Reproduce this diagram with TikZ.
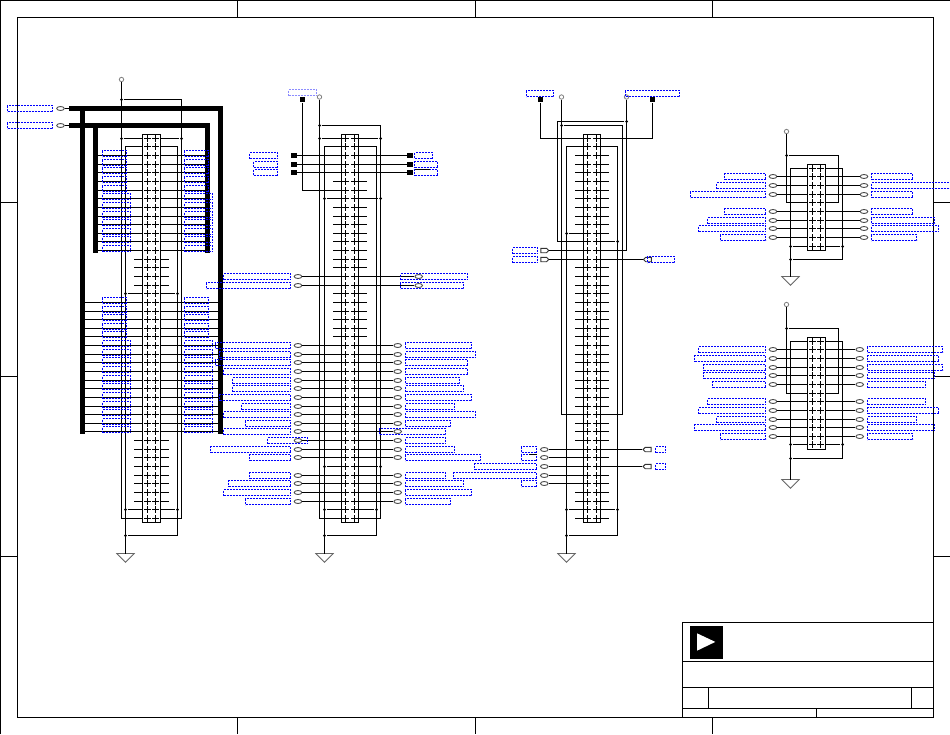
\documentclass[tikz,border=0pt]{standalone}
\usetikzlibrary{shapes.geometric,shapes.symbols}
\begin{document}
\begin{tikzpicture}[x=1pt, y=-1pt, line width=1.1pt,
    conn/.style = {draw, fill=white, inner sep=0},
    contact/.style = {inner sep=0, minimum size=5pt},
    net/.style 2 args = {draw=blue, line width=1pt, dash pattern=on 2pt off 1pt, inner sep=0, outer sep=0, anchor=west,
        minimum height=6pt, minimum width={(#2-#1)*1pt}},
    port/.style = {ellipse, draw=black!70, line width=.9pt, inner sep=0, minimum width=7.6pt, minimum height=4pt},
    tagr/.style = {signal, signal to=east, signal pointer angle=90, draw=black!80, line width=.9pt, inner sep=0, minimum width=8pt, minimum height=4.4pt},
    tagl/.style = {tagr, signal to=west},
    junc/.style = {circle, fill, inner sep=0, minimum size=3pt},
    vcc/.style = {circle, draw=black!50, line width=.8pt, inner sep=0, minimum size=4.4pt},
    sqr/.style = {fill, inner sep=0, minimum size=5.5pt},
    gnd/.style = {isosceles triangle, isosceles triangle apex angle=125, shape border rotate=270, anchor=lower side,
        isosceles triangle stretches, draw=black!60, line width=.8pt, inner sep=0, outer sep=0, minimum width=17.4pt, minimum height=8.8pt},
    bus/.style = {line width=5pt}]
  \useasboundingbox (0,0) rectangle (950,734);

  % sheet frame
  \draw (.5,734) -- (.5,.5) -- (950,.5);
  \draw (17.5,17.5) rectangle (933.5,717.5);
  \foreach \tx in {237.5,475.5,712.5} \draw (\tx,0) -- (\tx,17.5) (\tx,717.5) -- (\tx,734);
  \foreach \ty in {202.5,376.5,556.5} \draw (0,\ty) -- (17.5,\ty) (933.5,\ty) -- (950,\ty);

  % title block
  \draw (682.5,622.5) rectangle (933.5,717.5);
  \draw (682.5,661.5) -- (933.5,661.5) (682.5,687.5) -- (933.5,687.5) (682.5,708.5) -- (933.5,708.5);
  \draw (708.5,687.5) -- (708.5,708.5) (911.5,687.5) -- (911.5,708.5) (816.5,708.5) -- (816.5,717.5);
  \fill (690,626) rectangle (722.5,658.7);
  \fill[white] (697,633.3) -- (715.3,641.9) -- (697,650.7) -- cycle;

  % connector bodies and their rows
  \foreach \cn/\xw/\xe/\xp/\xq/\ytop/\last in {a/142.5/160.5/147.5/155.5/138.3/44, b/341.5/358.5/345.5/354.5/138.3/44, c/583.5/600.5/587.5/596.5/138.3/44, d/807.5/825.5/812.5/820.5/168.3/9, e/807.5/825.5/812.5/820.5/341.3/12} {
    \pgfmathsetmacro\ybox{floor(\ytop-4)+.5}
    \pgfmathsetmacro\yend{floor(\ytop+8.636*\last+4.2)+.5}
    \node[conn, minimum width={(\xe-\xw)*1pt}, minimum height={(\yend-\ybox)*1pt}] (\cn) at ({(\xw+\xe)/2},{(\ybox+\yend)/2}) {};
    \foreach \i in {0,...,\last} {
      \pgfmathsetmacro\ry{floor(\ytop+8.636*\i)+.5}
      \coordinate (\cn w\i) at (\xw,\ry);
      \coordinate (\cn e\i) at (\xe,\ry);
      \coordinate (\cn sw\i) at (\xw-8.5,\ry);
      \coordinate (\cn se\i) at (\xe+8.5,\ry);
      \node[contact] (\cn l\i) at (\xp,\ry) {};
      \node[contact] (\cn r\i) at (\xq,\ry) {};
      \draw (\cn l\i.north) -- (\cn l\i.south) (\cn l\i.west) -- (\cn l\i.east);
      \draw (\cn r\i.north) -- (\cn r\i.south) (\cn r\i.west) -- (\cn r\i.east);
    }
  }

  % connector a
  \node[vcc] (avcc) at (121.5,79.5) {};
  \coordinate (ar1) at (181.5,99.5);
  \coordinate (ar2) at (177.5,535.5);
  \coordinate (agt) at (125.5,553.5);
  \node[gnd] (agnd) at (agt) {};
  \node[junc] (aj1) at (avcc |- ar1) {};
  \node[junc] (aj2) at (agt |- ar2) {};
  \node[junc] (aj3) at (aw0 -| avcc) {};
  \node[junc] (aj4) at (ae0 -| ar1) {};
  \draw (avcc) |- (aw44);
  \draw (aj1) -- (ar1) |- (ae44);
  \draw (aj3) -- (aw0) (ae0) -- (aj4);
  \draw (aw1) -| (agt);
  \draw (ae1) -| (ar2) -- (aj2);
  \foreach \i in {18,43} {
    \node[junc] (ajw\i) at (aw\i -| agt) {};
    \node[junc] (aje\i) at (ae\i -| ar2) {};
    \draw (ajw\i) -- (aw\i) (ae\i) -- (aje\i);
  }
  \foreach \i in {14,...,17,35,36,...,42} \draw (aw\i) -- (asw\i) (ae\i) -- (ase\i);

  % busses
  \coordinate (as1) at (69,108.5);
  \coordinate (as2) at (69,125.5);
  \coordinate (af1) at (82.5,433.5);
  \coordinate (ag1) at (220.5,433.5);
  \coordinate (af2) at (95.5,252.5);
  \coordinate (ag2) at (207.5,252.5);
  \node[net={7.5}{52.5}] (an1) at (7.5,108.5) {};
  \node[net={7.5}{52.5}] (an2) at (7.5,125.5) {};
  \node[port] (ap1) at (60.5,108.5) {};
  \node[port] (ap2) at (60.5,125.5) {};
  \draw (ap1) -- (as1) (ap2) -- (as2);
  \draw[bus] (as1) -| (ag1);
  \draw[bus] (as1 -| af1) -- (af1);
  \draw[bus] (as2) -| (ag2);
  \draw[bus] (as2 -| af2) -- (af2);
  \foreach \i in {2,...,13} \draw (aw\i) -- (aw\i -| af2) (ae\i) -- (ae\i -| ag2);
  \foreach \i in {19,...,34} \draw (aw\i) -- (aw\i -| af1) (ae\i) -- (ae\i -| ag1);
  \foreach \rows/\wl/\wr in {{2,3,4,5,6}/126.5/208.5, {7,...,13}/130.5/212.5, {19,...,23}/126.5/208.5, {24,...,34}/130.5/212.5} {
    \foreach \i in \rows {
      \node[net={102.5}{\wl}, yshift=2pt] (anl\i) at (102.5,0 |- aw\i) {};
      \node[net={184.5}{\wr}, yshift=2pt] (anr\i) at (184.5,0 |- ae\i) {};
    }
  }

  % connector b
  \node[vcc] (bvcc) at (319.5,97) {};
  \node[sqr] (bsq) at (302.5,99.5) {};
  \node[net={288.5}{316.5}, draw=blue!45] (bsqn) at (288.5,92.5) {};
  \coordinate (br1) at (380.5,125.5);
  \coordinate (br2) at (376.5,535.5);
  \coordinate (bgt) at (324.5,553.5);
  \node[gnd] (bgnd) at (bgt) {};
  \node[junc] (bj1) at (bvcc |- br1) {};
  \node[junc] (bj2) at (bgt |- br2) {};
  \node[junc] (bj3) at (bw0 -| bvcc) {};
  \node[junc] (bj4) at (be0 -| br1) {};
  \draw (bvcc) |- (bw44);
  \draw (bj1) -- (br1) |- (be44);
  \draw (bj3) -- (bw0) (be0) -- (bj4);
  \draw (bw1) -| (bgt);
  \draw (be1) -| (br2) -- (bj2);
  \draw (bsq) |- (bw6);
  \foreach \i in {7,38} {
    \node[junc] (bjw\i) at (bw\i -| bgt) {};
    \node[junc] (bje\i) at (be\i -| br1) {};
    \draw (bjw\i) -- (bw\i) (be\i) -- (bje\i);
  }
  \node[junc] (bjw43) at (bw43 -| bgt) {};
  \node[junc] (bje43) at (be43 -| br2) {};
  \draw (bjw43) -- (bw43) (be43) -- (bje43);
  \draw (be6) -- (bse6) (bw5) -- (bsw5) (be5) -- (bse5);
  \foreach \i in {8,...,15,18,19,...,23} \draw (bw\i) -- (bsw\i) (be\i) -- (bse\i);
  \foreach \i/\xe in {2/432.5,3/437.5,4/437.5} {
    \node[sqr] (bql\i) at (294,0 |- bw\i) {};
    \node[sqr] (bqr\i) at (410,0 |- be\i) {};
    \draw (bql\i) -- (bw\i) (be\i) -- (bqr\i);
    \node[net={414.5}{\xe}] (bnr\i) at (414.5,0 |- be\i) {};
  }
  \node[net={249.5}{277.5}] (bnl2) at (249.5,0 |- bw2) {};
  \node[net={253.5}{277.5}] (bnl3) at (253.5,0 |- bw3) {};
  \node[net={253.5}{277.5}] (bnl4) at (253.5,0 |- bw4) {};
  \draw (bnr4.north west) -- ++(15,0);
  \foreach \i in {16,17,24,25,...,37,39,40,41,42} {
    \node[port] (bpl\i) at (298,0 |- bw\i) {};
    \draw (bpl\i) -- (bw\i);
  }
  \foreach \i in {24,25,...,37,39,40,41,42} {
    \node[port] (bpr\i) at (397.7,0 |- be\i) {};
    \draw (be\i) -- (bpr\i);
  }
  \foreach \i in {16,17} {
    \node[port] (bpr\i) at (418.7,0 |- be\i) {};
    \draw (be\i) -- (bpr\i);
  }
  \foreach \i/\xl in {16/223.5,17/206.5,24/215.5,25/219.5,26/215.5,27/223.5,28/232.5,29/232.5,30/219.5,31/241.5,32/223.5,33/245.5,34/223.5,36/210.5,37/249.5,39/249.5,40/228.5,41/223.5,42/245.5}
    \node[net={\xl}{290.5}] (bnl\i) at (\xl,0 |- bw\i) {};
  \node[net={267.5}{307.5}] (bnl35) at (267.5,0 |- bw35) {};
  \foreach \i/\xr in {24/471.5,25/475.5,26/467.5,27/467.5,28/459.5,29/463.5,30/471.5,31/454.5,32/475.5,33/450.5,35/445.5,36/454.5,37/480.5,39/445.5,40/463.5,41/471.5,42/450.5}
    \node[net={405.5}{\xr}] (bnr\i) at (405.5,0 |- be\i) {};
  \node[net={379.5}{445.5}] (bnr34) at (379.5,0 |- be34) {};
  \node[net={400.5}{467.5}] (bnr16) at (400.5,0 |- be16) {};
  \node[net={400.5}{463.5}] (bnr17) at (400.5,0 |- be17) {};

  % connector c
  \node[vcc] (cvcc1) at (561.5,97) {};
  \node[vcc] (cvcc2) at (626.5,97) {};
  \node[sqr] (csq1) at (540.5,99.5) {};
  \node[sqr] (csq2) at (652.5,99.5) {};
  \node[net={526.5}{553.5}] (cqn1) at (526.5,93.5) {};
  \node[net={625.5}{679.5}] (cqn2) at (625.5,93.5) {};
  \draw (csq1) |- (cw0);
  \draw (csq2) |- (ce0);
  \coordinate (cr1) at (622.5,125.5);
  \coordinate (cr2) at (557.5,121.5);
  \coordinate (cr3) at (617.5,535.5);
  \coordinate (cgt) at (566.5,553.5);
  \node[gnd] (cgnd) at (cgt) {};
  \node[junc] (cj1) at (cvcc1 |- cr1) {};
  \node[junc] (cj2) at (cvcc2 |- cr2) {};
  \node[junc] (cj3) at (cgt |- cr3) {};
  \draw (cvcc1) |- (cw32);
  \draw (cj1) -- (cr1) |- (ce32);
  \draw (cvcc2) |- (ce13);
  \draw (cj2) -- (cr2) |- (cw12);
  \draw (cw1) -| (cgt);
  \draw (ce1) -| (cr3) -- (cj3);
  \node[junc] (cjw11) at (cw11 -| cgt) {};
  \node[junc] (cje12) at (ce12 -| cr3) {};
  \node[junc] (cjw43) at (cw43 -| cgt) {};
  \node[junc] (cje43) at (ce43 -| cr3) {};
  \draw (cjw11) -- (cw11) (ce12) -- (cje12) (cjw43) -- (cw43) (ce43) -- (cje43);
  \foreach \i in {2,...,10,15,16,...,31,33,34,35,41,42,44} \draw (cw\i) -- (csw\i);
  \foreach \i in {2,...,11,15,16,...,31,33,34,35,37,39,40,41,42,44} \draw (ce\i) -- (cse\i);
  \foreach \i in {13,14} {
    \node[tagr] (cpl\i) at (543.7,0 |- cw\i) {};
    \draw (cpl\i) -- (cw\i);
    \node[net={512.5}{537.5}] (cnl\i) at (512.5,0 |- cw\i) {};
  }
  \node[tagl] (cpr14) at (648.5,0 |- ce14) {};
  \draw (ce14) -- (cpr14);
  \node[net={647.5}{674.5}] (cnr14) at (647.5,0 |- ce14) {};
  \foreach \i/\xl in {36/521.5,37/521.5,38/474.5,39/453.5,40/521.5} {
    \node[port] (cpl\i) at (544.3,0 |- cw\i) {};
    \draw (cpl\i) -- (cw\i);
    \node[net={\xl}{536.5}] (cnl\i) at (\xl,0 |- cw\i) {};
  }
  \draw (cnl37.north east) -- ++(-8,0);
  \foreach \i in {36,38} {
    \node[tagl] (cpr\i) at (648.2,0 |- ce\i) {};
    \draw (ce\i) -- (cpr\i);
    \node[net={655.5}{665.5}] (cnr\i) at (655.5,0 |- ce\i) {};
  }

  % connectors d and e
  \foreach \cn/\vy/\ra/\mid/\rb/\gy/\last in {d/131.5/155.5/4/259.5/276.5/9, e/304.5/328.5/6/458.5/479.5/12} {
    \node[vcc] (\cn vcc) at (786.5,\vy) {};
    \coordinate (\cn ra) at (838.5,\ra);
    \coordinate (\cn rb) at (842.5,\rb);
    \coordinate (\cn gt) at (790.5,\gy);
    \node[gnd] (\cn gnd) at (\cn gt) {};
    \node[junc] (\cn ja) at (\cn vcc |- \cn ra) {};
    \node[junc] (\cn jb) at (\cn gt |- \cn rb) {};
    \node[junc] (\cn jw) at (\cn w\last -| \cn gt) {};
    \node[junc] (\cn je) at (\cn e\last -| \cn rb) {};
    \draw (\cn vcc) |- (\cn w\mid);
    \draw (\cn ja) -- (\cn ra) |- (\cn e\mid);
    \draw (\cn w0) -| (\cn gt);
    \draw (\cn e0) -| (\cn rb) -- (\cn jb);
    \draw (\cn jw) -- (\cn w\last) (\cn e\last) -- (\cn je);
  }
  \foreach \i/\xl/\xr in {1/724.5/912.5,2/716.5/952,3/690.5/912.5,5/724.5/912.5,6/707.5/934.5,7/698.5/938.5,8/720.5/916.5} {
    \node[port] (dpl\i) at (773,0 |- dw\i) {};
    \node[port] (dpr\i) at (864,0 |- de\i) {};
    \draw (dpl\i) -- (dw\i) (de\i) -- (dpr\i);
    \node[net={\xl}{765.5}] (dnl\i) at (\xl,0 |- dw\i) {};
    \node[net={871.5}{\xr}] (dnr\i) at (871.5,0 |- de\i) {};
  }
  \foreach \i/\xl/\xr in {1/698.5/942.5,2/694.5/938.5,3/703.5/942.5,4/703.5/934.5,5/712.5/925.5,7/707.5/925.5,8/698.5/938.5,9/716.5/916.5,10/694.5/934.5,11/720.5/912.5} {
    \node[port] (epl\i) at (773,0 |- ew\i) {};
    \node[port] (epr\i) at (859.7,0 |- ee\i) {};
    \draw (epl\i) -- (ew\i) (ee\i) -- (epr\i);
    \node[net={\xl}{765.5}] (enl\i) at (\xl,0 |- ew\i) {};
    \node[net={867.5}{\xr}] (enr\i) at (867.5,0 |- ee\i) {};
  }
\end{tikzpicture}
\end{document}
